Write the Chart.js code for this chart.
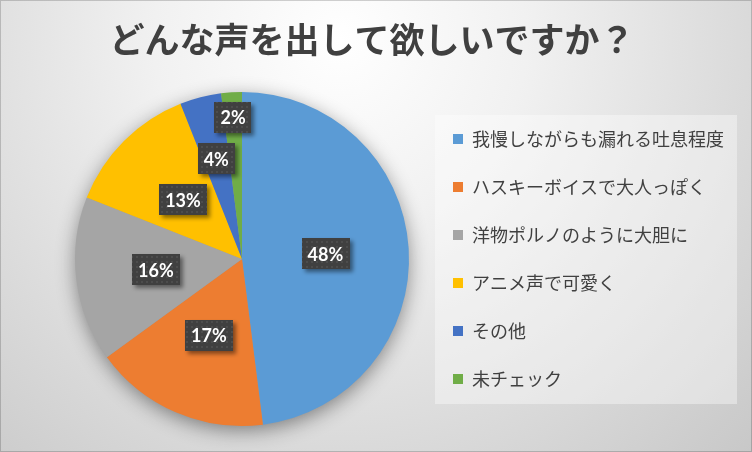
<!DOCTYPE html>
<html>
<head>
<meta charset="utf-8">
<script src="https://cdn.jsdelivr.net/npm/chart.js@4.4.0/dist/chart.umd.min.js"></script>
<style>
  html, body { margin: 0; padding: 0; background: #ffffff; }
  #wrap { width: 752px; height: 452px; }
</style>
</head>
<body>
<div id="wrap"><canvas id="voice"></canvas></div>
<script>
var chartTitle = "どんな声を出して欲しいですか？";
var categories = ["我慢しながらも漏れる吐息程度", "ハスキーボイスで大人っぽく", "洋物ポルノのように大胆に", "アニメ声で可愛く", "その他", "未チェック"];
var shares = [48, 17, 16, 13, 4, 2];
var sliceColors = ["#5b9bd5", "#ed7d31", "#a5a5a5", "#ffc000", "#4472c4", "#70ad47"];
// how far out (fraction of radius) each percent tag sits
var tagRadius = [0.5, 0.5, 0.52, 0.5, 0.62, 0.85];

document.addEventListener("DOMContentLoaded", function () {
    var ctx = document.getElementById("voice").getContext("2d");

    // dotted fill for the percent tags
    var pc = document.createElement("canvas");
    pc.width = 5; pc.height = 5;
    var p = pc.getContext("2d");
    p.fillStyle = "#404040";
    p.fillRect(0, 0, 5, 5);
    p.fillStyle = "#4d4d4d";
    p.fillRect(1, 1, 2, 2);
    var tagPattern = ctx.createPattern(pc, "repeat");

    var backdrop = {
        id: "backdrop",
        beforeDraw: function (chart) {
            var c = chart.ctx, w = chart.width, h = chart.height;
            c.save();
            var g = c.createRadialGradient(340, 40, 0, 340, 40, 620);
            g.addColorStop(0, "#ffffff");
            g.addColorStop(0.3, "#f1f1f1");
            g.addColorStop(1, "#c4c4c4");
            c.fillStyle = g;
            c.fillRect(0, 0, w, h);
            c.strokeStyle = "rgba(0,0,0,0.18)";
            c.lineWidth = 2;
            c.strokeRect(0, 0, w, h);
            // legend panel
            var hb = chart.legend.legendHitBoxes[0];
            c.fillStyle = "rgba(255,255,255,0.38)";
            c.fillRect(hb.left - 18, hb.top - 15, 302, 289);
            // title
            c.fillStyle = "#404040";
            c.font = "bold 35px 'Noto Sans CJK JP'";
            c.textAlign = "center";
            c.textBaseline = "middle";
            c.fillText(chartTitle, 372, 40);
            c.restore();
        },
        beforeDatasetsDraw: function (chart) {
            var arc = chart.getDatasetMeta(0).data[0];
            var c = chart.ctx;
            c.save();
            c.shadowColor = "rgba(0,0,0,0.45)";
            c.shadowBlur = 20;
            c.shadowOffsetY = 5;
            c.fillStyle = "#999999";
            c.beginPath();
            c.arc(arc.x, arc.y, arc.outerRadius - 1, 0, Math.PI * 2);
            c.fill();
            c.restore();
        },
        afterDatasetsDraw: function (chart) {
            var c = chart.ctx;
            var arcs = chart.getDatasetMeta(0).data;
            c.save();
            c.font = "bold 18px Lato";
            c.textAlign = "center";
            c.textBaseline = "middle";
            arcs.forEach(function (a, i) {
                var mid = (a.startAngle + a.endAngle) / 2;
                var r = a.outerRadius * tagRadius[i];
                var x = a.x + Math.cos(mid) * r;
                var y = a.y + Math.sin(mid) * r;
                var txt = shares[i] + "%";
                var tw = c.measureText(txt).width + 12;
                var th = 31;
                c.save();
                c.shadowColor = "rgba(0,0,0,0.45)";
                c.shadowBlur = 4;
                c.shadowOffsetX = 3;
                c.shadowOffsetY = 3;
                c.fillStyle = tagPattern;
                c.fillRect(Math.round(x - tw / 2), Math.round(y - th / 2), Math.round(tw), th);
                c.restore();
                c.fillStyle = "#ffffff";
                c.fillText(txt, x, y + 1);
            });
            c.restore();
        }
    };

    new Chart(ctx, {
        type: "pie",
        data: {
            labels: categories,
            datasets: [{
                data: shares,
                backgroundColor: sliceColors,
                borderWidth: 0
            }]
        },
        options: {
            responsive: true,
            maintainAspectRatio: false,
            animation: false,
            layout: { padding: { left: 61, right: 18, top: 92, bottom: 26 } },
            plugins: {
                legend: {
                    position: "right",
                    labels: {
                        boxWidth: 10,
                        boxHeight: 10,
                        padding: 30,
                        color: "#404040",
                        font: { family: "'Noto Sans CJK JP'", size: 18 }
                    }
                },
                tooltip: { enabled: false }
            }
        },
        plugins: [backdrop]
    });
});
</script>
</body>
</html>
